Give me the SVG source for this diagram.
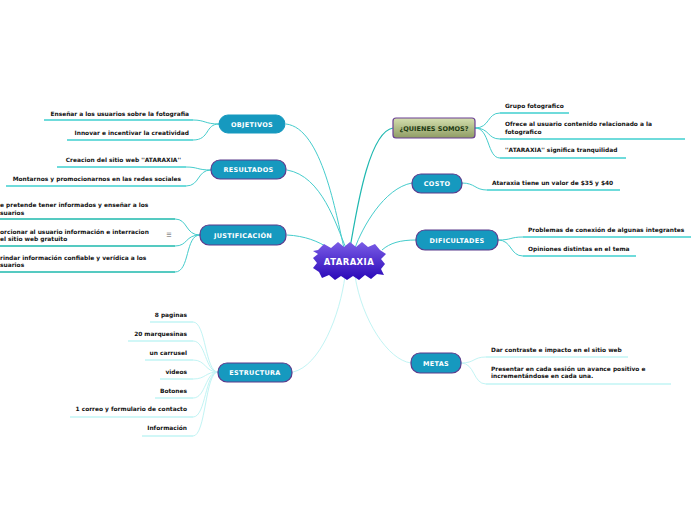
<svg xmlns="http://www.w3.org/2000/svg" width="696" height="520" viewBox="0 0 696 520">
<defs>
<linearGradient id="gCenter" x1="0" y1="0" x2="0" y2="1"><stop offset="0" stop-color="#7a5ce6"/><stop offset="1" stop-color="#2a08b8"/></linearGradient>
<linearGradient id="gQuien" x1="0" y1="0" x2="0" y2="1"><stop offset="0" stop-color="#d4dfae"/><stop offset="1" stop-color="#8f9c64"/></linearGradient>
<style>
.main{fill:#1699bf;stroke:#5b3a8c;stroke-width:1.2}
.mt{font-family:"DejaVu Sans",Verdana,sans-serif;font-weight:bold;font-size:6.5px;fill:#ffffff;text-anchor:middle;letter-spacing:0.3px}
.lt{font-family:"DejaVu Sans",Verdana,sans-serif;font-weight:bold;font-size:5.9px;fill:#111111}
.r{text-anchor:end}
.c1{fill:none;stroke:#45cccc;stroke-width:1}
.c2{fill:none;stroke:#c2f4f4;stroke-width:1}
.c3{fill:none;stroke:#1fb8b0;stroke-width:1.2}
.u1{stroke:#3fcfcf;stroke-width:1.3}
.u2{stroke:#c2f4f4;stroke-width:1.3}
.u3{stroke:#1cb8ac;stroke-width:1.5}
</style>
</defs>
<rect width="696" height="520" fill="#ffffff"/>
<g id="connectors">
<path class="c1" d="M286,124 C322,128 336,215 344,248"/>
<path class="c1" d="M287,170 C322,176 336,225 346,248"/>
<path class="c1" d="M287,235 C305,236 318,241 330,249"/>
<path class="c3" d="M393,128 C368,132 356,215 350,248"/>
<path class="c1" d="M412,183 C384,188 362,228 355,248"/>
<path class="c1" d="M416,240 C400,240 390,243 382,250"/>
<path class="c2" d="M411,363 C388,360 362,320 355,276"/>
<path class="c2" d="M293,372 C320,366 340,315 345,276"/>
<path class="c1" d="M219,124 C205,124 205,120 193,120"/>
<path class="c1" d="M219,124 C205,124 210,140 193,140"/>
<path class="c1" d="M211,170 C197,170 198,167 186,167"/>
<path class="c1" d="M211,170 C197,170 200,186 186,186"/>
<path class="c1" d="M200,235 C185,235 188,219 175,219"/>
<path class="c1" d="M200,235 C185,235 188,246 175,246"/>
<path class="c1" d="M200,235 C185,235 190,272 175,272"/>
<path class="c2" d="M218,372 C205,372 206,322 193,322"/>
<path class="c2" d="M218,372 C205,372 206,341 193,341"/>
<path class="c2" d="M218,372 C205,372 206,360 193,360"/>
<path class="c2" d="M218,372 C205,372 206,379 193,379"/>
<path class="c2" d="M218,372 C205,372 206,398 193,398"/>
<path class="c2" d="M218,372 C205,372 206,417 193,417"/>
<path class="c2" d="M218,372 C205,372 206,436 193,436"/>
<path class="c1" d="M475,128 C490,128 487,113 500,113"/>
<path class="c1" d="M475,128 C490,128 487,139 500,139"/>
<path class="c1" d="M475,128 C490,128 487,158 500,158"/>
<path class="c1" d="M462,183 C475,183 475,190 487,190"/>
<path class="c1" d="M498,240 C512,240 510,237 523,237"/>
<path class="c1" d="M498,240 C512,240 510,256 523,256"/>
<path class="c2" d="M461,363 C475,363 473,357 486,357"/>
<path class="c2" d="M461,363 C475,363 473,384 486,384"/>
</g>
<g id="center">
<polygon fill="url(#gCenter)" points="318,250 324,244 331,248 338,242 344,247 350,242 356,247 362,242 368,247 375,244 380,250 386,254 381,259 385,264 381,269 384,275 377,274 371,279 365,275 359,280 353,276 347,280 341,276 335,280 329,275 322,278 319,272 313,268 317,263 313,258 318,254 313,251"/>
<text x="349" y="264.5" font-family="DejaVu Sans,Verdana,sans-serif" font-weight="bold" font-size="8.5" fill="#ffffff" text-anchor="middle" letter-spacing="0.4">ATARAXIA</text>
</g>
<g id="objetivos">
<rect x="219" y="115" width="66" height="18" rx="9" fill="#1699bf" stroke="#1699bf"/>
<text class="mt" x="252" y="126.5">OBJETIVOS</text>
<line class="u1" x1="44" y1="120" x2="193" y2="120"/>
<text class="lt r" x="189" y="116">Enseñar a los usuarios sobre la fotografia</text>
<line class="u1" x1="67" y1="140" x2="193" y2="140"/>
<text class="lt r" x="189" y="135">Innovar e incentivar la creatividad</text>
</g>
<g id="resultados">
<rect class="main" x="211" y="160" width="75" height="19" rx="9"/>
<text class="mt" x="248.5" y="172">RESULTADOS</text>
<line class="u1" x1="57" y1="167" x2="186" y2="167"/>
<text class="lt r" x="181" y="162">Creacion del sitio web ''ATARAXIA''</text>
<line class="u1" x1="6" y1="186" x2="186" y2="186"/>
<text class="lt r" x="181" y="181">Montarnos y promocionarnos en las redes sociales</text>
</g>
<g id="justificacion">
<rect class="main" x="200" y="225" width="86" height="20" rx="9"/>
<text class="mt" x="243" y="237.5">JUSTIFICACIÓN</text>
<line class="u3" x1="0" y1="219" x2="175" y2="219"/>
<text class="lt" x="0" y="207">e pretende tener informados y enseñar a los</text>
<text class="lt" x="0" y="215">suarios</text>
<line class="u3" x1="0" y1="246" x2="175" y2="246"/>
<text class="lt" x="0" y="234">orcionar al usuario información e interracion</text>
<text class="lt" x="0" y="241">el sitio web gratuito</text>
<text x="169" y="237" font-family="DejaVu Sans,sans-serif" font-size="6" fill="#555555" text-anchor="middle">☰</text>
<line class="u3" x1="0" y1="272" x2="175" y2="272"/>
<text class="lt" x="0" y="260">rindar información confiable y verídica a los</text>
<text class="lt" x="0" y="267">suarios</text>
</g>
<g id="estructura">
<rect class="main" x="218" y="363" width="74" height="19" rx="9"/>
<text class="mt" x="255" y="375">ESTRUCTURA</text>
<line class="u2" x1="150" y1="322" x2="193" y2="322"/>
<text class="lt r" x="187" y="317">8 paginas</text>
<line class="u2" x1="128" y1="341" x2="193" y2="341"/>
<text class="lt r" x="187" y="336">20 marquesinas</text>
<line class="u2" x1="145" y1="360" x2="193" y2="360"/>
<text class="lt r" x="187" y="355">un carrusel</text>
<line class="u2" x1="160" y1="379" x2="193" y2="379"/>
<text class="lt r" x="187" y="374">videos</text>
<line class="u2" x1="155" y1="398" x2="193" y2="398"/>
<text class="lt r" x="187" y="393">Botones</text>
<line class="u2" x1="70" y1="417" x2="193" y2="417"/>
<text class="lt r" x="187" y="411">1 correo y formulario de contacto</text>
<line class="u2" x1="142" y1="436" x2="193" y2="436"/>
<text class="lt r" x="187" y="430">Información</text>
</g>
<g id="quienes">
<rect x="393" y="118" width="82" height="20" rx="3" fill="url(#gQuien)" stroke="#6b3f93" stroke-width="1.2"/>
<text class="mt" x="434" y="130.5" style="fill:#1d3a12;letter-spacing:0">¿QUIENES SOMOS?</text>
<line class="u1" x1="500" y1="113" x2="569" y2="113"/>
<text class="lt" x="505" y="108">Grupo fotografico</text>
<line class="u1" x1="500" y1="139" x2="685" y2="139"/>
<text class="lt" x="505" y="126">Ofrece al usuario contenido relacionado a la</text>
<text class="lt" x="505" y="134">fotografico</text>
<line class="u1" x1="500" y1="158" x2="626" y2="158"/>
<text class="lt" x="505" y="152">''ATARAXIA'' significa tranquilidad</text>
</g>
<g id="costo">
<rect class="main" x="412" y="174" width="50" height="19" rx="9"/>
<text class="mt" x="437" y="186">COSTO</text>
<line class="u1" x1="487" y1="190" x2="620" y2="190"/>
<text class="lt" x="492" y="184.5">Ataraxia tiene un valor de $35 y $40</text>
</g>
<g id="dificultades">
<rect class="main" x="416" y="230" width="82" height="20" rx="9"/>
<text class="mt" x="457" y="242.5">DIFICULTADES</text>
<line class="u1" x1="523" y1="237" x2="691" y2="237"/>
<text class="lt" x="528" y="232">Problemas de conexión de algunas integrantes</text>
<line class="u1" x1="523" y1="256" x2="636" y2="256"/>
<text class="lt" x="528" y="251">Opiniones distintas en el tema</text>
</g>
<g id="metas">
<rect class="main" x="411" y="353" width="50" height="20" rx="9"/>
<text class="mt" x="436" y="365.5">METAS</text>
<line class="u2" x1="486" y1="357" x2="628" y2="357"/>
<text class="lt" x="491" y="352">Dar contraste e impacto en el sitio web</text>
<line class="u2" x1="486" y1="384" x2="671" y2="384"/>
<text class="lt" x="491" y="371">Presentar en cada sesión un avance positivo e</text>
<text class="lt" x="491" y="378">incrementándose en cada una.</text>
</g>
</svg>
